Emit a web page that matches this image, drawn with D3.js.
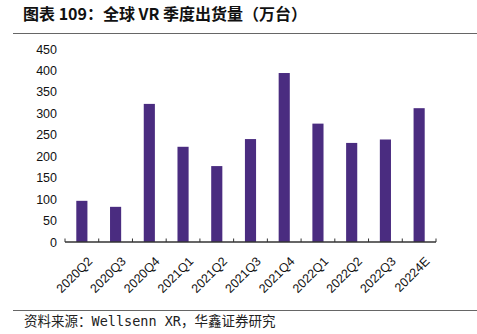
<!DOCTYPE html>
<html><head><meta charset="utf-8">
<script src="https://cdn.jsdelivr.net/npm/d3@7"></script>
<style>body{margin:0;background:#fff}svg{display:block}</style>
</head><body>
<script>
const categories = ["2020Q2","2020Q3","2020Q4","2021Q1","2021Q2","2021Q3","2021Q4","2022Q1","2022Q2","2022Q3","20224E"];
const values = [96, 82, 322, 222, 177, 240, 394, 276, 231, 239, 312];
const yTicks = [0,50,100,150,200,250,300,350,400,450];
const title = "图表 109：全球 VR 季度出货量（万台）";
const source = "资料来源：Wellsenn XR，华鑫证券研究";

const W = 477, H = 334;
const svg = d3.select("body").append("svg").attr("width", W).attr("height", H);
const cjk = "'Noto Sans CJK SC', sans-serif";
const mono = "'DejaVu Sans Mono', 'Noto Sans CJK SC', monospace";

svg.append("text").attr("x", 23).attr("y", 20).attr("font-family", cjk)
  .attr("font-weight", "bold").attr("font-size", 16).attr("fill", "#111").text(title);
svg.append("line").attr("x1", 13).attr("x2", 477).attr("y1", 33.5).attr("y2", 33.5)
  .attr("stroke", "#666").attr("stroke-width", 1);

const x = d3.scaleBand().domain(categories).range([65, 436]).paddingInner(0.67).paddingOuter(0.335);
const y = d3.scaleLinear().domain([0, 450]).range([242, 49]);

// y labels
const ya = svg.append("g").attr("transform", "translate(57,0)")
  .call(d3.axisLeft(y).tickValues(yTicks).tickSize(0).tickPadding(0));
ya.select(".domain").remove();
ya.selectAll("text").attr("font-family", "'Liberation Sans', Arial, sans-serif").attr("font-size", 12.5).attr("fill", "#111");

// bars
svg.append("g").selectAll("rect").data(values).join("rect")
  .attr("x", (d, i) => x(categories[i]))
  .attr("width", x.bandwidth())
  .attr("y", d => y(d))
  .attr("height", d => y(0) - y(d))
  .attr("fill", "#4A2C80");

// x axis
const bounds = d3.range(categories.length + 1).map(i => 65 + i * (371 / categories.length));
const xa = svg.append("g");
xa.append("line").attr("x1", 65).attr("x2", 436).attr("y1", y(0)).attr("y2", y(0))
  .attr("stroke", "#333").attr("stroke-width", 1.5);
xa.selectAll("line.t").data(bounds).join("line").attr("class", "t")
  .attr("x1", d => d).attr("x2", d => d).attr("y1", y(0) - 3.5).attr("y2", y(0))
  .attr("stroke", "#333").attr("stroke-width", 1);

xa.selectAll("text.lab").data(categories).join("text").attr("class", "lab")
  .attr("transform", d => `translate(${x(d) + x.bandwidth() / 2 + 5},${y(0) + 14}) rotate(-45)`)
  .attr("text-anchor", "end").attr("dy", "0.7em")
  .attr("font-family", "'Liberation Sans', Arial, sans-serif").attr("font-size", 12.5).attr("fill", "#111")
  .text(d => d);

svg.append("line").attr("x1", 13).attr("x2", 477).attr("y1", 310.5).attr("y2", 310.5)
  .attr("stroke", "#666").attr("stroke-width", 1);
svg.append("text").attr("x", 24).attr("y", 326).attr("font-family", mono)
  .attr("font-size", 13.5).attr("fill", "#222").text(source);
</script>
</body></html>
